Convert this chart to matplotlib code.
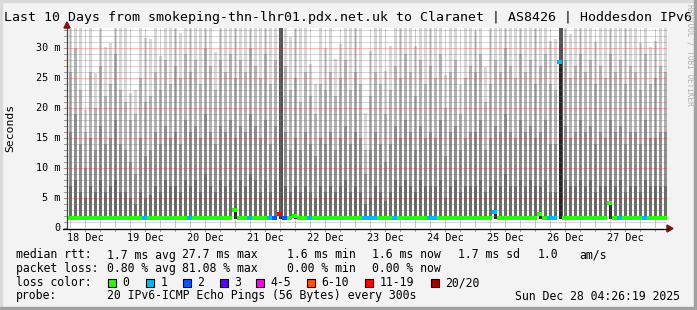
import matplotlib
matplotlib.use("Agg")
import matplotlib.pyplot as plt
from matplotlib.patches import Rectangle, Polygon
import numpy as np

W, H = 697, 310
MONO = "DejaVu Sans Mono"

title = "Last 10 Days from smokeping-thn-lhr01.pdx.net.uk to Claranet | AS8426 | Hoddesdon IPv6"
day_labels = ["18 Dec", "19 Dec", "20 Dec", "21 Dec", "22 Dec",
              "23 Dec", "24 Dec", "25 Dec", "26 Dec", "27 Dec"]
y_ticks = [0, 5, 10, 15, 20, 25, 30]
y_tick_labels = ["0", "5 m", "10 m", "15 m", "20 m", "25 m", "30 m"]

# smoke per 2 hour bucket, milliseconds (values above 33.3 are clipped)
smoke_max = [33.5, 33.5, 33.5, 19.7, 33.5, 25.9, 33.5, 30.2, 30.8, 33.5,
             33.5, 33.5, 22.5, 23.0, 33.5, 31.7, 31.5, 33.5, 28.7, 33.5,
             33.5, 33.5, 32.5, 33.5, 33.5, 33.5, 33.5, 33.5, 33.5, 29.3,
             33.5, 33.5, 33.5, 33.5, 33.5, 33.5, 33.5, 33.5, 33.5, 33.5,
             33.5, 33.5, 33.5, 33.5, 31.8, 33.5, 33.5, 33.5, 27.3, 24.0,
             33.5, 30.0, 33.5, 28.2, 30.7, 33.5, 33.5, 33.5, 33.5, 19.2,
             29.5, 33.5, 33.5, 26.2, 30.4, 33.5, 33.5, 33.5, 33.5, 30.3,
             33.5, 33.5, 33.5, 33.5, 33.5, 25.5, 33.5, 33.5, 23.8, 33.5,
             33.5, 32.9, 33.5, 26.8, 33.5, 33.5, 33.5, 33.5, 33.5, 33.5,
             33.5, 33.5, 33.5, 33.5, 33.5, 33.5, 31.2, 31.5, 33.5, 33.5,
             32.3, 33.5, 33.5, 33.5, 33.5, 31.0, 33.5, 33.5, 33.5, 33.5,
             33.5, 33.5, 33.5, 33.5, 30.8, 33.5, 30.2, 31.2, 33.5, 33.5]
smoke_q2 = [26, 30, 23, 16, 26, 20, 27, 22, 24, 29,
            23, 21, 18, 19, 25, 21, 22, 26, 23, 28,
            24, 27, 25, 29, 26, 28, 24, 30, 27, 23,
            28, 26, 29, 25, 28, 26, 30, 27, 25, 29,
            24, 28, 33, 27, 23, 25, 21, 26, 22, 19,
            24, 23, 26, 22, 25, 28, 23, 26, 24, 13,
            22, 26, 24, 19, 23, 27, 25, 29, 26, 22,
            28, 24, 27, 25, 29, 20, 26, 28, 19, 25,
            27, 26, 29, 21, 24, 28, 26, 30, 27, 25,
            29, 26, 28, 24, 27, 29, 24, 23, 33, 28,
            25, 27, 29, 26, 28, 24, 27, 25, 29, 26,
            28, 24, 27, 26, 23, 29, 24, 25, 27, 26]
smoke_q1 = [16, 19, 14, 10, 15, 13, 17, 14, 15, 18,
            14, 13, 11, 9, 15, 12, 13, 16, 14, 17,
            15, 16, 14, 18, 16, 17, 15, 19, 16, 14,
            17, 16, 18, 15, 17, 16, 19, 17, 15, 18,
            14, 17, 33, 16, 13, 15, 13, 16, 14, 12,
            15, 14, 16, 13, 15, 17, 14, 16, 15, 9,
            13, 16, 14, 11, 14, 17, 15, 18, 16, 13,
            17, 15, 16, 15, 18, 12, 16, 17, 13, 15,
            16, 16, 18, 13, 15, 17, 16, 19, 16, 15,
            18, 16, 17, 15, 16, 18, 14, 14, 33, 17,
            15, 16, 18, 16, 17, 14, 16, 15, 18, 16,
            17, 14, 16, 16, 14, 18, 15, 15, 16, 16]
smoke_q0 = [7, 8, 6, 5, 7, 6, 8, 6, 7, 8,
            6, 6, 5, 4, 6, 5, 5.5, 7, 6, 8,
            7, 7, 6, 8, 7, 8, 6, 9, 7, 6,
            8, 7, 8, 6, 8, 7, 9, 8, 6, 8,
            6, 8, 33, 7, 6, 7, 6, 7, 6, 5,
            7, 6, 7, 6, 7, 8, 6, 7, 6, 4,
            5, 7, 6, 4.5, 6, 8, 7, 8, 7, 6,
            8, 7, 7, 7, 8, 5, 7, 8, 6, 7,
            7, 7, 8, 6, 7, 8, 7, 9, 7, 7,
            8, 7, 8, 7, 7, 8, 6, 6, 33, 8,
            7, 7, 8, 7, 8, 6, 7, 7, 8, 7,
            8, 6, 7, 7, 6, 8, 7, 7, 7, 7]
min_rtt = 1.45

# buckets with very dense smoke
dark_bars = [42, 98]
core_bars = [33, 42, 45, 85, 94, 98, 108]
core_top = [3.0, 2.4, 2.0, 2.6, 2.3, 27.7, 4.2]

median = [1.6] * 5 + [1.7] * 16 + [1.6] * 99
median_spikes = {33: 3.0, 42: 2.4, 45: 2.0, 85: 2.6, 94: 2.3, 98: 27.7, 108: 4.2}
for k, v in median_spikes.items():
    median[k] = v

loss = [0] * 120
for k in [15, 24, 36, 40, 48, 59, 60, 61, 65, 72, 73, 85, 96, 97, 98, 110, 115]:
    loss[k] = 1
for k in [41, 43]:
    loss[k] = 2
loss[42] = 6

loss_names = ["0", "1", "2", "3", "4-5", "6-10", "11-19", "20/20"]
loss_colors = ["#26ff00", "#00b8ff", "#0059ff", "#5e00ff",
               "#ff00ea", "#ff5500", "#ff0000", "#a10000"]

# ---- figure -------------------------------------------------------------
fig = plt.figure(figsize=(W / 100, H / 100), dpi=100, facecolor="#f3f3f3")


def fx(x):
    return x / W


def fy(y):
    return 1 - y / H


# frame
fig.patches.append(Rectangle((0, fy(2)), 1, 2 / H, transform=fig.transFigure, color="#dadada", zorder=0))
fig.patches.append(Rectangle((0, 0), 2 / W, 1, transform=fig.transFigure, color="#dadada", zorder=0))
fig.patches.append(Rectangle((0, 0), 1, 3 / H, transform=fig.transFigure, color="#a0a0a0", zorder=0))
fig.patches.append(Rectangle((fx(W - 3), 0), 3 / W, 1, transform=fig.transFigure, color="#a0a0a0", zorder=0))

ax = fig.add_axes([fx(67), fy(228), 600 / W, 200 / H])
ax.set_facecolor("white")
x_start, x_end = 0.2, 10.2
y_top = 200 / 6.0
ax.set_xlim(x_start, x_end)
ax.set_ylim(0, y_top)
for s in ax.spines.values():
    s.set_visible(False)
ax.set_xticks([])
ax.set_yticks([])

bucket = 1 / 12
n = len(smoke_max)
lefts = x_start + np.arange(n) * bucket
bar_x = lefts + 2 / 60
bar_w = 3 / 60

shades = [(smoke_max, "#d8d8d8"), (smoke_q2, "#b2b2b2"),
          (smoke_q1, "#8e8e8e"), (smoke_q0, "#6c6c6c")]
for vals, col in shades:
    top = np.minimum(np.array(vals, dtype=float), y_top + 1)
    ax.bar(bar_x, top - min_rtt, width=bar_w, bottom=min_rtt, align="edge",
           color=col, linewidth=0, zorder=2)
for k in dark_bars:
    ax.bar(bar_x[k], y_top + 1 - min_rtt, width=bar_w + 1 / 60, bottom=min_rtt, align="edge",
           color="#555555", linewidth=0, zorder=3)
for k, t in zip(core_bars, core_top):
    ax.bar(bar_x[k], t - min_rtt, width=bar_w, bottom=min_rtt, align="edge",
           color="#262626", linewidth=0, zorder=3)

# grid
grid_dots = (0, (1, 1))
minor_y = [v for v in range(1, 34) if v % 5]
major_y = [v for v in range(5, 34, 5)]
ax.hlines(minor_y, x_start, x_end, colors=[(0.45, 0.45, 0.45, 0.3)], linewidth=0.72,
          linestyles=[grid_dots], antialiased=False, zorder=4)
ax.hlines(major_y, x_start, x_end, colors=[(1, 0, 0, 0.25)], linewidth=0.72,
          linestyles=[grid_dots], antialiased=False, zorder=4)
minor_x = [d / 4 for d in range(1, 41) if d % 4]
major_x = list(range(1, 11))
ax.vlines(minor_x, 0, y_top, colors=[(0.45, 0.45, 0.45, 0.35)], linewidth=0.72,
          linestyles=[grid_dots], antialiased=False, zorder=4)
ax.vlines(major_x, 0, y_top, colors=[(1, 0, 0, 0.3)], linewidth=0.72,
          linestyles=[grid_dots], antialiased=False, zorder=4)

# median line coloured by loss
ax.hlines(median, lefts, lefts + bucket, colors=[loss_colors[l] for l in loss],
          linewidth=1.6, antialiased=False, zorder=5)

# axes lines and arrows
ax.plot([x_start, x_start], [0, y_top], color="#444444", lw=0.9, clip_on=False, zorder=6)
fig.add_artist(plt.Line2D([fx(63), fx(668)], [fy(228.5), fy(228.5)], color="black", lw=0.9))
fig.add_artist(Polygon([[fx(64), fy(28)], [fx(70), fy(28)], [fx(67), fy(22)]],
                       closed=True, color="#7f1010", transform=fig.transFigure))
fig.add_artist(Polygon([[fx(667), fy(225)], [fx(667), fy(232)], [fx(673), fy(228.5)]],
                       closed=True, color="#7f1010", transform=fig.transFigure))
for x in minor_x + major_x:
    ax.plot([x, x], [-0.25, -0.5], color="#999999", lw=0.7, clip_on=False)
for v in range(0, 34):
    ax.plot([x_start - 0.05, x_start - 0.02], [v, v], color="#999999", lw=0.7, clip_on=False)

# tick labels
for i, lab in enumerate(day_labels):
    ax.text(i + 0.5, -1.6, lab, ha="center", va="center", family=MONO, fontsize=7.3)
for v, lab in zip(y_ticks, y_tick_labels):
    fig.text(fx(60), fy(228 - v * 6), lab, ha="right", va="center", family=MONO, fontsize=7.3)
fig.text(fx(10), fy(128), "Seconds", rotation=90, ha="center", va="center", family=MONO, fontsize=8.2)

fig.text(fx(4), fy(18), title, ha="left", va="center", family=MONO, fontsize=9.5)
fig.text(fx(690), fy(4), "RRDTOOL / TOBI OETIKER", rotation=270, ha="center", va="top",
         family=MONO, fontsize=5.6, color="#b0b0b0")

# legend
fs = 8.3
rows = [255, 268.5, 282.5, 296]
fig.text(fx(16), fy(rows[0]), "median rtt:", family=MONO, fontsize=fs, va="center")
for x, t in [(107, "1.7 ms avg"), (182.5, "27.7 ms max"), (287, "1.6 ms min"),
             (372.5, "1.6 ms now"), (458, "1.7 ms sd"), (537.5, "1.0"), (579, "am/s")]:
    fig.text(fx(x), fy(rows[0]), t, family=MONO, fontsize=fs, va="center")
fig.text(fx(16), fy(rows[1]), "packet loss:", family=MONO, fontsize=fs, va="center")
for x, t in [(107, "0.80 % avg"), (182.5, "81.08 % max"), (287, "0.00 % min"), (372.5, "0.00 % now")]:
    fig.text(fx(x), fy(rows[1]), t, family=MONO, fontsize=fs, va="center")
fig.text(fx(16), fy(rows[2]), "loss color:", family=MONO, fontsize=fs, va="center")
box_x = [108, 146, 183, 220, 256, 307, 365, 431]
for bx, name, col in zip(box_x, loss_names, loss_colors):
    fig.add_artist(Rectangle((fx(bx), fy(rows[2] + 4)), 8 / W, 8 / H, transform=fig.transFigure,
                             facecolor=col, edgecolor="black", linewidth=0.8))
    fig.text(fx(bx + 14.5), fy(rows[2]), name, family=MONO, fontsize=fs, va="center")
fig.text(fx(16), fy(rows[3]), "probe:", family=MONO, fontsize=fs, va="center")
fig.text(fx(107), fy(rows[3]), "20 IPv6-ICMP Echo Pings (56 Bytes) every 300s",
         family=MONO, fontsize=fs, va="center")
fig.text(fx(680), fy(rows[3]), "Sun Dec 28 04:26:19 2025", ha="right",
         family=MONO, fontsize=fs, va="center")

fig.savefig("out.png", dpi=100, facecolor=fig.get_facecolor())
